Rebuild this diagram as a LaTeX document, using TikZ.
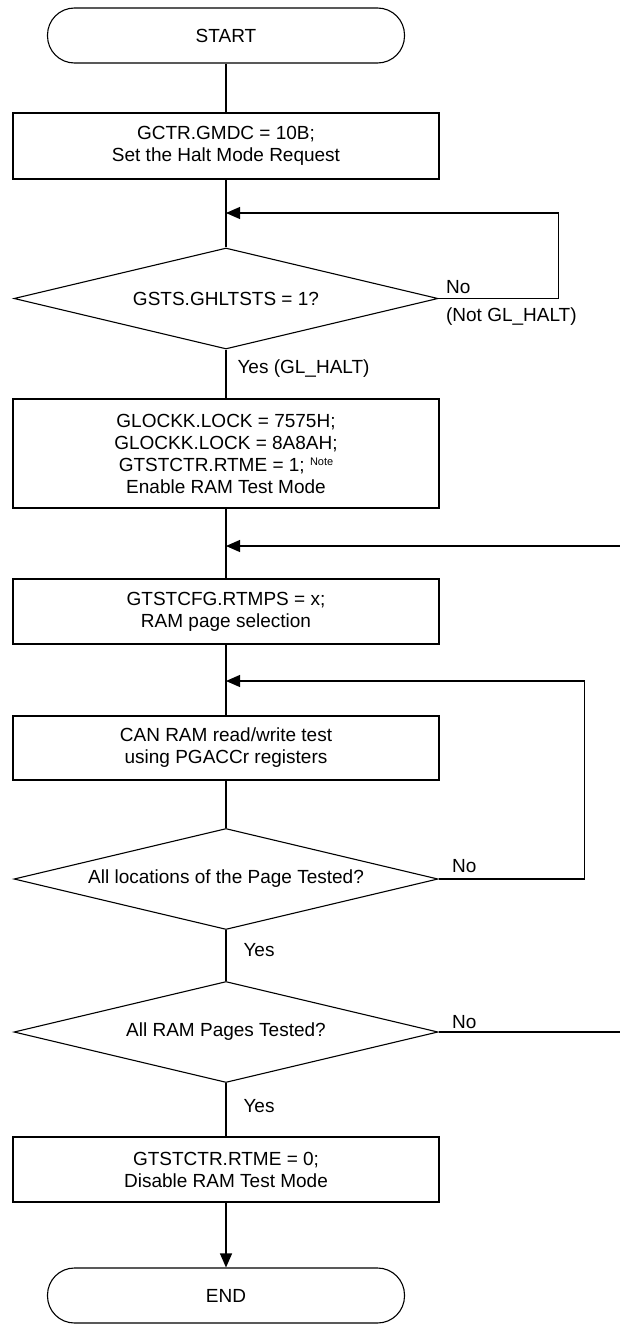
\documentclass[tikz,border=0pt]{standalone}
\usepackage{fontspec}
\setmainfont{Liberation Sans}
\usetikzlibrary{shapes.geometric,arrows.meta}

\begin{document}
\begin{tikzpicture}[
    x=1pt, y=-1pt,
    line width=1.1pt,
    txt/.style={font=\fontsize{19}{22}\selectfont},
    box/.style={draw, txt, minimum width=426pt, minimum height=66pt, align=center, inner sep=0pt},
    terminal/.style={draw, txt, rounded corners=27pt, minimum width=357pt, minimum height=55pt},
    decision/.style={draw, txt, diamond, aspect=4.2, minimum width=424pt, minimum height=101pt, inner sep=0pt},
    lbl/.style={txt, inner sep=0pt},
    arrow/.style={-{Triangle[length=14pt,width=12pt]}}
]
    \clip (0,0) rectangle (620,1325);

    % Start
    \node[terminal] (start) at (226,35.5) {START};

    % Halt mode request
    \node[box] (gmdc) at (226,146) {GCTR.GMDC = 10B;\\Set the Halt Mode Request};
    \coordinate (j1) at (226,213);

    % Halt status check
    \node[decision] (halt) at (226,298.5) {GSTS.GHLTSTS = 1?};

    % Enable RAM test mode
    \node[box, minimum height=109pt] (lock) at (226,453.5) {GLOCKK.LOCK = 7575H;\\GLOCKK.LOCK = 8A8AH;\\GTSTCTR.RTME = 1; \raisebox{6pt}{\fontsize{11}{11}\selectfont Note}\\Enable RAM Test Mode};
    \coordinate (j2) at (226,546);

    % Page selection
    \node[box, minimum height=65pt] (page) at (226,611.5) {GTSTCFG.RTMPS = x;\\RAM page selection};
    \coordinate (j3) at (226,681);

    % Read/write test
    \node[box, minimum height=64pt] (test) at (226,748) {CAN RAM read/write test\\using PGACCr registers};

    % Decisions
    \node[decision] (locs) at (226,879) {All locations of the Page Tested?};
    \node[decision] (pages) at (226,1032) {All RAM Pages Tested?};

    % Disable RAM test mode
    \node[box, minimum height=65pt] (disable) at (226,1169.5) {GTSTCTR.RTME = 0;\\Disable RAM Test Mode};

    % End
    \node[terminal] (end) at (226,1295.5) {END};

    % Labels
    \node[lbl, anchor=base west] (nohalt) at ([xshift=7pt,yshift=5pt]halt.east) {No};
    \node[lbl, anchor=base west] (nothalt) at ([xshift=7pt,yshift=-23pt]halt.east) {(Not GL\_HALT)};
    \node[lbl, anchor=base west] (yeshalt) at ([xshift=11pt,yshift=-24pt]halt.south) {Yes (GL\_HALT)};
    \node[lbl, anchor=base west] (nolocs) at ([xshift=13pt,yshift=7pt]locs.east) {No};
    \node[lbl, anchor=base west] (yeslocs) at ([xshift=17pt,yshift=-26pt]locs.south) {Yes};
    \node[lbl, anchor=base west] (nopages) at ([xshift=13pt,yshift=4pt]pages.east) {No};
    \node[lbl, anchor=base west] (yespages) at ([xshift=17pt,yshift=-29pt]pages.south) {Yes};

    % Arrows
    \draw (start) -- (gmdc);
    \draw (gmdc) -- (halt);
    \draw[arrow] (halt.east) -- ++(120,0) |- (j1);
    \draw (halt) -- (lock);
    \draw (lock) -- (page);
    \draw (page) -- (test);
    \draw (test) -- (locs);
    \draw[arrow] (locs.east) -- ++(146,0) |- (j3);
    \draw (locs) -- (pages);
    \draw[arrow] (pages.east) -- ++(200,0) |- (j2);
    \draw (pages) -- (disable);
    \draw[arrow] (disable) -- (end);
\end{tikzpicture}
\end{document}
